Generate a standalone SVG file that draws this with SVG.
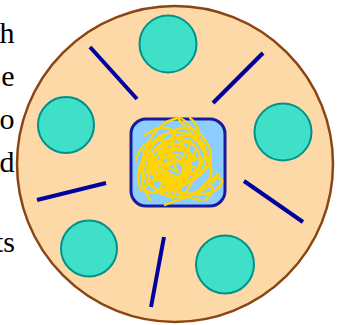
<svg xmlns="http://www.w3.org/2000/svg" width="343" height="325" viewBox="0 0 343 325">
<style>
.plate{fill:#FDD9A8;stroke:#8B4513;stroke-width:2.5}
.ball{fill:#40E0C8;stroke:#00918C;stroke-width:2}
.stick{stroke:#0000A0;stroke-width:4;stroke-linecap:butt}
.box{fill:#8CCFFF;stroke:#1A1AA0;stroke-width:3}
.scr{fill:none;stroke:#FFD400;stroke-width:2.4;stroke-linejoin:round;stroke-linecap:round}
</style>
<g id="text" font-family="Liberation Serif, Times New Roman, serif" font-size="30" fill="#000" text-anchor="end">
<text x="14.5" y="43" font-family="Liberation Serif" font-size="30">h</text>
<text x="14.5" y="86" font-family="Liberation Serif" font-size="30">e</text>
<text x="14.5" y="129" font-family="Liberation Serif" font-size="30">o</text>
<text x="14.5" y="172" font-family="Liberation Serif" font-size="30">d</text>
<text x="15" y="252" font-family="Liberation Serif" font-size="30">ts</text>
</g>
<g id="plate"><circle class="plate" cx="175" cy="164" r="158"/></g>
<g id="ball-top"><circle class="ball" cx="168" cy="44" r="28.5"/></g>
<g id="ball-right"><circle class="ball" cx="283" cy="132" r="28.5"/></g>
<g id="ball-left"><circle class="ball" cx="66" cy="125" r="28"/></g>
<g id="ball-bottom-left"><circle class="ball" cx="89" cy="248.5" r="28"/></g>
<g id="ball-bottom-right"><circle class="ball" cx="225" cy="264.5" r="29"/></g>
<g id="connectors">
<line class="stick" x1="90" y1="47" x2="137" y2="99"/>
<line class="stick" x1="263" y1="53" x2="213" y2="103"/>
<line class="stick" x1="244" y1="181" x2="303" y2="222"/>
<line class="stick" x1="164" y1="237" x2="151" y2="307"/>
<line class="stick" x1="37" y1="200" x2="106" y2="183"/>
</g>
<g id="center">
<rect class="box" x="131" y="119" width="94" height="87" rx="15"/>
<path class="scr" d="M150,200 C140,185 138,160 150,140 S172,120 178,118 S198,135 205,150 S215,175 205,185 S180,200 165,195 S145,175 150,160 S170,135 185,140 S205,160 195,175 S170,190 160,180 S145,155 160,145 S190,130 200,145 S210,170 190,180 S160,195 150,185 S140,160 155,150 S185,140 190,160 S180,185 165,182 S150,165 165,158 S185,155 183,170 S165,178 162,168"/>
<path class="scr" d="M138,175 C140,160 150,145 165,135 S195,125 205,140 S212,165 200,175 S175,185 160,178 S140,160 148,148 S170,128 190,135 S208,155 198,168 S172,178 165,170 S160,150 175,148 S195,158 188,172 S165,195 150,192 S136,178 142,165 M165,205 C180,198 200,195 210,185 S220,170 212,180 M170,190 C185,192 205,200 218,188 S210,172 200,190 M178,118 C182,125 190,130 195,140 M145,135 C155,128 165,126 172,130 S160,150 150,165 M200,200 C190,198 180,195 175,190"/>
<path class="scr" d="M142,150 L160,170 L150,185 L175,160 L165,145 L190,175 L170,185 L158,150 L185,150 L180,190 L155,165 L195,160 L175,135 L160,190 L200,170 L168,155 L146,172 L185,182 L190,140 L152,158 L172,198 L196,150 M140,190 L162,176 L148,160 L178,172 L160,138 L203,162 L184,196 L146,146 M205,200 C212,195 215,188 208,182 M190,118 C196,122 200,130 198,138 M136,160 C138,150 142,145 150,142"/>
</g>
</svg>
